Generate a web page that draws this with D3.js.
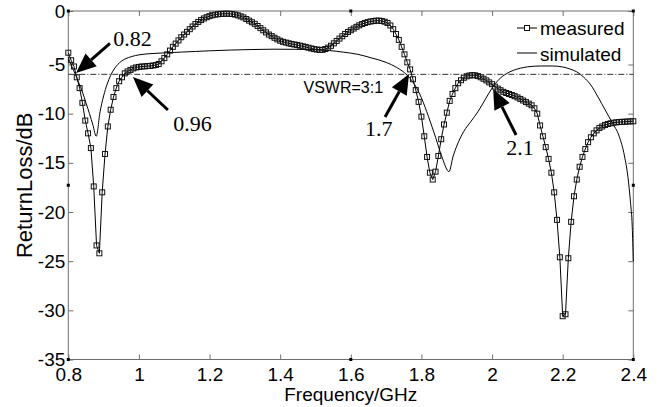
<!DOCTYPE html>
<html>
<head>
<meta charset="utf-8">
<script src="https://cdn.jsdelivr.net/npm/d3@7"></script>
<style>
  body { margin: 0; background: #fff; }
  text { font-family: 'Liberation Sans', Arial, sans-serif; fill: #000; }
</style>
</head>
<body>
<div id="chart"></div>
<script>
// measured sweep, 0.8 - 2.4 GHz, one point every 8 MHz
const measuredStart = 0.8
const measuredStep = 0.008
const measuredDb = [
  -3.9, -4.6, -5.2, -6.3, -7.4, -8.9, -10.7, -12.0, -13.5, -17.4,
  -23.4, -24.2, -18.0, -14.1, -11.3, -9.6, -8.3, -7.4, -6.7, -6.3,
  -5.9, -5.7, -5.55, -5.4, -5.3, -5.25, -5.2, -5.2, -5.15, -5.15,
  -5.1, -5.05, -4.95, -4.7, -4.4, -4.05, -3.7, -3.35, -3.05, -2.75,
  -2.45, -2.2, -1.95, -1.7, -1.45, -1.22, -1.02, -0.85, -0.7, -0.58,
  -0.48, -0.4, -0.34, -0.3, -0.27, -0.26, -0.25, -0.26, -0.28, -0.33,
  -0.4, -0.5, -0.6, -0.75, -0.9, -1.05, -1.2, -1.4, -1.6, -1.8,
  -2.0, -2.2, -2.35, -2.5, -2.65, -2.78, -2.88, -2.95, -3.02, -3.08,
  -3.13, -3.18, -3.24, -3.3, -3.36, -3.43, -3.5, -3.56, -3.6, -3.64,
  -3.63, -3.55, -3.42, -3.25, -3.02, -2.8, -2.58, -2.36, -2.15, -1.96,
  -1.8, -1.64, -1.48, -1.34, -1.22, -1.12, -1.04, -0.98, -0.94, -0.9,
  -0.9, -0.93, -1.0, -1.12, -1.35, -1.7, -2.15, -2.7, -3.35, -4.05,
  -4.8, -5.5, -6.5, -7.6, -8.8, -10.3, -12.3, -14.4, -16.0, -16.7,
  -15.9, -14.3, -12.6, -11.1, -9.9, -8.7, -8.0, -7.4, -6.9, -6.6,
  -6.35, -6.2, -6.12, -6.08, -6.1, -6.18, -6.3, -6.45, -6.62, -6.82,
  -7.0, -7.25, -7.45, -7.62, -7.78, -7.9, -8.0, -8.1, -8.22, -8.35,
  -8.5, -8.66, -8.82, -8.98, -9.15, -9.45, -10.0, -11.2, -12.3, -13.4,
  -14.6, -16.0, -18.0, -20.8, -24.6, -30.6, -30.4, -24.7, -21.0, -18.4,
  -16.7, -15.4, -14.4, -13.6, -12.9, -12.4, -12.0, -11.7, -11.45, -11.3,
  -11.15, -11.05, -10.98, -10.92, -10.88, -10.85, -10.83, -10.82, -10.8, -10.78,
  -10.77
]

// simulated curve
const simFreq = [
  0.80, 0.81, 0.82, 0.83, 0.84, 0.85, 0.86, 0.87, 0.879, 0.89,
  0.90, 0.91, 0.92, 0.93, 0.94, 0.95, 0.96, 0.98, 1.00, 1.04,
  1.08, 1.12, 1.16, 1.20, 1.26, 1.32, 1.38, 1.44, 1.50, 1.54,
  1.58, 1.62, 1.66, 1.70, 1.73, 1.76, 1.78, 1.80, 1.82, 1.84,
  1.86, 1.878, 1.89, 1.90, 1.92, 1.94, 1.96, 1.98, 2.00, 2.02,
  2.04, 2.06, 2.08, 2.10, 2.14, 2.17, 2.20, 2.22, 2.24, 2.26,
  2.28, 2.30, 2.32, 2.34, 2.36, 2.375, 2.385, 2.392, 2.397, 2.40
]
const simDb = [
  -4.4, -5.2, -6.0, -6.9, -7.8, -8.9, -10.0, -11.2, -12.3, -9.8,
  -8.2, -7.0, -6.1, -5.45, -5.0, -4.7, -4.5, -4.25, -4.1, -3.97,
  -3.9, -3.84, -3.78, -3.72, -3.65, -3.6, -3.57, -3.58, -3.62, -3.7,
  -3.85, -4.05, -4.4, -4.8, -5.3, -6.1, -7.0, -8.4, -10.3, -12.4,
  -14.6, -15.9, -14.3, -13.3, -11.8, -10.8, -9.8, -8.6, -7.4, -6.5,
  -5.95, -5.6, -5.38, -5.24, -5.15, -5.15, -5.25, -5.45, -5.75, -6.3,
  -7.1, -8.3, -9.6, -10.9, -12.3, -14.3, -16.5, -19.0, -21.5, -25.0
]

const xTicks = [0.8, 1, 1.2, 1.4, 1.6, 1.8, 2, 2.2, 2.4]
const yTicks = [0, -5, -10, -15, -20, -25, -30, -35]
const vswrDb = -6
const seriesNames = ['measured', 'simulated']

// arrow annotations: label position, arrow tail and arrow tip (GHz, dB)
const noteLabels = ['0.82', '0.96', '1.7', '2.1']
const noteText = [[0.927, -3.27], [1.097, -11.76], [1.64, -12.27], [2.04, -14.2]]
const noteTail = [[0.918, -3.02], [1.082, -9.63], [1.697, -10.34], [2.068, -12.17]]
const noteTip = [[0.822, -5.86], [0.983, -6.27], [1.765, -5.97], [2.003, -7.49]]

const W = 663, H = 407
const svg = d3.select('#chart')
  .append('svg')
  .attr('width', W)
  .attr('height', H)

svg.append('rect').attr('width', W).attr('height', H).attr('fill', '#fff')

const x = d3.scaleLinear()
  .domain([0.8, 2.4])
  .range([68.3, 633.3])

// the picture's y axis is slightly uneven near the top
const y = d3.scaleLinear()
  .domain([-35, -5, 0])
  .range([359.5, 64.5, 11])

const axisColor = '#6e6e6e'
const plain = d => String(d) // ascii hyphen for negatives, like the original

// axes, ticks pointing inward
const gx = svg.append('g')
  .attr('transform', 'translate(0,' + y(-35) + ')')
  .call(d3.axisBottom(x).tickValues(xTicks).tickFormat(plain).tickSize(-5).tickPadding(8.5))
const gy = svg.append('g')
  .attr('transform', 'translate(' + x(0.8) + ',0)')
  .call(d3.axisLeft(y).tickValues(yTicks).tickFormat(plain).tickSize(-5).tickPadding(3))
const gt = svg.append('g')
  .attr('transform', 'translate(0,' + y(0) + ')')
  .call(d3.axisTop(x).tickValues(xTicks).tickFormat('').tickSize(-5))
const gr = svg.append('g')
  .attr('transform', 'translate(' + x(2.4) + ',0)')
  .call(d3.axisRight(y).tickValues(yTicks).tickFormat('').tickSize(-5))

;[gx, gy, gt, gr].forEach(g => {
  g.select('.domain').remove()
  g.selectAll('line').attr('stroke', axisColor)
  g.selectAll('text')
    .style('font-family', "'Liberation Sans', Arial, sans-serif")
    .style('font-size', '19px')
    .attr('fill', '#000')
})

// box
svg.append('rect')
  .attr('x', x(0.8))
  .attr('y', y(0))
  .attr('width', x(2.4) - x(0.8))
  .attr('height', y(-35) - y(0))
  .attr('fill', 'none')
  .attr('stroke', axisColor)
  .attr('stroke-width', 1)

// axis labels
svg.append('text')
  .attr('x', (x(0.8) + x(2.4)) / 2)
  .attr('y', 401)
  .attr('text-anchor', 'middle')
  .style('font-size', '19px')
  .text('Frequency/GHz')

svg.append('text')
  .attr('transform', 'translate(32,' + (y(0) + y(-35)) / 2 + ') rotate(-90)')
  .attr('text-anchor', 'middle')
  .style('font-size', '22px')
  .text('ReturnLoss/dB')

// VSWR = 3:1 reference line
svg.append('line')
  .attr('x1', x(0.8))
  .attr('x2', x(2.4))
  .attr('y1', y(vswrDb))
  .attr('y2', y(vswrDb))
  .attr('stroke', '#333')
  .attr('stroke-width', 1)
  .attr('stroke-dasharray', '6,2,1,2')

svg.append('text')
  .attr('x', x(1.466))
  .attr('y', y(-7.9))
  .style('font-size', '16px')
  .text('VSWR=3:1')

const measured = measuredDb.map((v, i) => ({ f: +(measuredStart + i * measuredStep).toFixed(3), v: v }))
const simulated = simFreq.map((f, i) => ({ f: f, v: simDb[i] }))

// simulated line
svg.append('path')
  .datum(simulated)
  .attr('fill', 'none')
  .attr('stroke', '#000')
  .attr('stroke-width', 1)
  .attr('d', d3.line()
    .x(d => x(d.f))
    .y(d => y(d.v))
    .curve(d3.curveMonotoneX))

// measured line + square markers
svg.append('path')
  .datum(measured)
  .attr('fill', 'none')
  .attr('stroke', '#000')
  .attr('stroke-width', 1)
  .attr('d', d3.line()
    .x(d => x(d.f))
    .y(d => y(d.v)))

const ms = 5
svg.append('g')
  .selectAll('rect')
  .data(measured)
  .join('rect')
  .attr('x', d => x(d.f) - ms / 2)
  .attr('y', d => y(d.v) - ms / 2)
  .attr('width', ms)
  .attr('height', ms)
  .attr('fill', 'none')
  .attr('stroke', '#111')
  .attr('stroke-width', 1)

// arrows
noteLabels.forEach((label, i) => {
  const x0 = x(noteTail[i][0]), y0 = y(noteTail[i][1])
  const x1 = x(noteTip[i][0]), y1 = y(noteTip[i][1])
  const ang = Math.atan2(y1 - y0, x1 - x0)
  const headLen = 20, headHalf = 8.5
  const bx = x1 - headLen * Math.cos(ang), by = y1 - headLen * Math.sin(ang)
  svg.append('line')
    .attr('x1', x0).attr('y1', y0)
    .attr('x2', bx).attr('y2', by)
    .attr('stroke', '#000')
    .attr('stroke-width', 3)
  svg.append('path')
    .attr('d', 'M' + x1 + ',' + y1 +
      'L' + (bx + headHalf * Math.sin(ang)) + ',' + (by - headHalf * Math.cos(ang)) +
      'L' + (bx - headHalf * Math.sin(ang)) + ',' + (by + headHalf * Math.cos(ang)) + 'Z')
    .attr('fill', '#000')
  svg.append('text')
    .attr('x', x(noteText[i][0]))
    .attr('y', y(noteText[i][1]))
    .style('font-family', "'Liberation Serif', 'Times New Roman', serif")
    .style('font-size', '22px')
    .text(label)
})

// legend (no box)
const legend = svg.append('g')
  .attr('transform', 'translate(517,28)')

legend.append('line')
  .attr('x1', 0).attr('x2', 20)
  .attr('stroke', '#000')
legend.append('rect')
  .attr('x', 10 - ms / 2).attr('y', -ms / 2)
  .attr('width', ms).attr('height', ms)
  .attr('fill', '#fff')
  .attr('stroke', '#111')
  .attr('stroke-width', 1)
legend.append('text')
  .attr('x', 23).attr('y', 7)
  .style('font-size', '19px')
  .text(seriesNames[0])

legend.append('line')
  .attr('x1', 0).attr('x2', 20)
  .attr('y1', 25).attr('y2', 25)
  .attr('stroke', '#000')
legend.append('text')
  .attr('x', 23).attr('y', 33)
  .style('font-size', '19px')
  .text(seriesNames[1])

// selection handles on the axes box
const hx = [x(0.8), (x(0.8) + x(2.4)) / 2, x(2.4)]
const hy = [y(0), (y(0) + y(-35)) / 2, y(-35)]
const handles = []
hx.forEach((px, i) => hy.forEach((py, j) => {
  if (i !== 1 || j !== 1) handles.push([px, py])
}))
svg.append('g')
  .selectAll('rect')
  .data(handles)
  .join('rect')
  .attr('x', d => d[0] - 1.5)
  .attr('y', d => d[1] - 1.5)
  .attr('width', 3)
  .attr('height', 3)
  .attr('fill', '#000')
</script>
</body>
</html>
